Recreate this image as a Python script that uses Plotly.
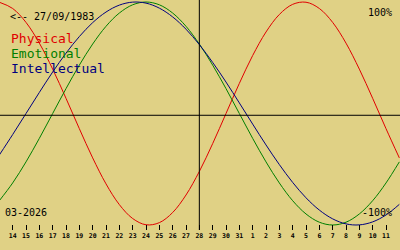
import plotly.graph_objects as go

# Day labels (index 0 = first visible edge point, not labelled)
days = [13, 14, 15, 16, 17, 18, 19, 20, 21, 22, 23, 24, 25, 26, 27, 28,
        29, 30, 31, 1, 2, 3, 4, 5, 6, 7, 8, 9, 10, 11, 12]

# Biorhythm values (-1 .. 1)
physical = [0.998, 0.942, 0.817, 0.631, 0.398, 0.136, -0.136, -0.398, -0.631,
            -0.817, -0.942, -0.998, -0.979, -0.888, -0.731, -0.520, -0.270,
            0.0, 0.270, 0.520, 0.731, 0.888, 0.979, 0.998, 0.942, 0.817,
            0.631, 0.398, 0.136, -0.136, -0.398]
emotional = [-0.782, -0.623, -0.434, -0.223, 0.0, 0.223, 0.434, 0.623, 0.782,
             0.901, 0.975, 1.0, 0.975, 0.901, 0.782, 0.623, 0.434, 0.223, 0.0,
             -0.223, -0.434, -0.623, -0.782, -0.901, -0.975, -1.0, -0.975,
             -0.901, -0.782, -0.623, -0.434]
intellectual = [-0.372, -0.189, 0.0, 0.189, 0.372, 0.541, 0.690, 0.815, 0.910,
                0.972, 0.999, 0.990, 0.945, 0.866, 0.756, 0.618, 0.458, 0.282,
                0.095, -0.095, -0.282, -0.458, -0.618, -0.756, -0.866, -0.945,
                -0.990, -0.999, -0.972, -0.910, -0.815]

birth_label = "<-- 27/09/1983"
month_label = "03-2026"
center_day_index = 15

BG = "#E0D185"
RED = "#E00000"
GREEN = "#007F00"
BLUE = "#00007F"
FONT = "DejaVu Sans Mono"

x = list(range(len(days)))

fig = go.Figure()
for name, vals, col in [("Physical", physical, RED),
                        ("Emotional", emotional, GREEN),
                        ("Intellectual", intellectual, BLUE)]:
    fig.add_trace(go.Scatter(x=x, y=vals, mode="lines", name=name,
                             line=dict(color=col, width=1, shape="spline"),
                             hoverinfo="skip"))

W, H_PLOT = 400, 230

fig.add_shape(type="line", xref="paper", yref="y", x0=0, x1=1, y0=-0.016, y1=-0.016,
              line=dict(color="black", width=1))
fig.add_shape(type="line", xref="x", yref="paper", x0=center_day_index, x1=center_day_index,
              y0=0, y1=1, line=dict(color="black", width=1))

def ann(text, px, py, color="black", size=10, xanchor="left"):
    fig.add_annotation(text=text, x=px / W, y=1 - py / H_PLOT, xref="paper", yref="paper",
                       xanchor=xanchor, yanchor="middle", showarrow=False,
                       font=dict(family=FONT, size=size, color=color))

ann(birth_label, 8, 16.5)
ann("Physical", 9, 38.5, RED, 13)
ann("Emotional", 9, 53.5, GREEN, 13)
ann("Intellectual", 9, 68.5, BLUE, 13)
ann("100%", 394, 12.5, xanchor="right")
ann("-100%", 394, 212.5, xanchor="right")
ann(month_label, 3, 212.5)

tickvals = x[1:-1]
ticktext = [str(d) for d in days[1:-1]]

fig.update_layout(
    width=400, height=250,
    margin=dict(l=0, r=0, t=0, b=20),
    paper_bgcolor=BG, plot_bgcolor=BG,
    showlegend=False,
    xaxis=dict(range=[0.05, 30.05], showgrid=False, zeroline=False, showline=False,
               tickmode="array", tickvals=tickvals, ticktext=ticktext,
               ticks="inside", ticklen=5, tickcolor="black", tickwidth=1,
               tickfont=dict(family=FONT, size=6.5, color="black", weight="bold"),
               fixedrange=True),
    yaxis=dict(range=[-1.04484, 1.01794], showgrid=False, zeroline=False,
               showticklabels=False, showline=False, fixedrange=True),
)

fig.write_html("out.html")
